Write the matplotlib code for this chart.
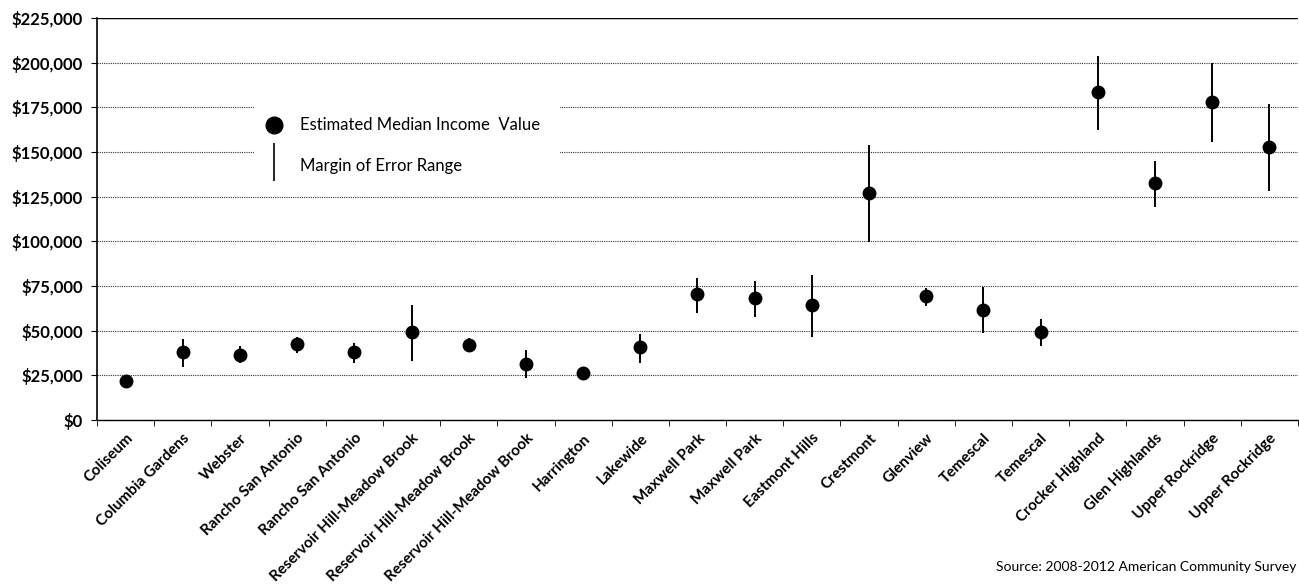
import numpy as np
import matplotlib
matplotlib.use('Agg')
import matplotlib.pyplot as plt
from matplotlib.ticker import FuncFormatter, MultipleLocator
from matplotlib.patches import Rectangle

neighborhoods = ['Coliseum', 'Columbia Gardens', 'Webster', 'Rancho San Antonio',
                 'Rancho San Antonio', 'Reservoir Hill-Meadow Brook',
                 'Reservoir Hill-Meadow Brook', 'Reservoir Hill-Meadow Brook',
                 'Harrington', 'Lakewide', 'Maxwell Park', 'Maxwell Park',
                 'Eastmont Hills', 'Crestmont', 'Glenview', 'Temescal', 'Temescal',
                 'Crocker Highland', 'Glen Highlands', 'Upper Rockridge', 'Upper Rockridge']
median_income = [22000, 38000, 36500, 42500, 38000, 49200, 42000, 31500, 26300, 40800,
                 70500, 68300, 64300, 127000, 69500, 61500, 49500, 183500, 132500,
                 178000, 153000]
moe_low = [18000, 29500, 32000, 37500, 32000, 33000, 38500, 23500, 23000, 31800,
           59900, 57600, 46400, 99600, 64000, 48700, 41400, 162300, 119200,
           155600, 128200]
moe_high = [25000, 45500, 41400, 46500, 43000, 64300, 46000, 39000, 29500, 48100,
            79400, 77800, 81100, 154000, 74000, 74400, 56500, 203700, 145000,
            199800, 176800]

plt.rcParams['font.family'] = ['Lato', 'DejaVu Sans']

fig = plt.figure(figsize=(12.99, 5.85), dpi=100)
ax = fig.add_axes([0.0747, 0.282, 0.9245, 0.687])

x = np.arange(len(neighborhoods))
ax.vlines(x, moe_low, moe_high, color='black', lw=1.4, zorder=3)
ax.plot(x, median_income, 'o', color='black', ms=9, zorder=4)

ax.set_xlim(-0.5, len(neighborhoods) - 0.5)
ax.set_ylim(0, 225000)
ax.yaxis.set_major_locator(MultipleLocator(25000))
ax.yaxis.set_major_formatter(FuncFormatter(lambda v, p: '${:,.0f}'.format(v)))
ax.grid(axis='y', color='#333333', lw=0.8, ls=(0, (1, 1)))
ax.set_axisbelow(True)

ax.set_xticks(x)
ax.set_xticklabels(neighborhoods, rotation=45, ha='right', rotation_mode='anchor',
                   fontsize=11, fontweight='bold')
ax.tick_params(axis='x', which='major', length=0, pad=8)
ax.set_xticks(np.arange(-0.5, len(neighborhoods)), minor=True)
ax.tick_params(axis='x', which='minor', length=4, direction='out')
ax.tick_params(axis='y', length=4, labelsize=12, pad=6)
for lab in ax.get_yticklabels():
    lab.set_fontweight('bold')

for s in ['top', 'right']:
    ax.spines[s].set_visible(False)
ax.axhline(225000, color='black', lw=1.0)
ax.spines['left'].set_linewidth(1.2)
ax.spines['bottom'].set_linewidth(1.0)

# legend box
ax.add_patch(Rectangle((2.245, 135000), 5.35, 45000, facecolor='white', edgecolor='none', zorder=2.5))
ax.plot([2.59], [165000], 'o', color='black', ms=12, zorder=4)
ax.text(3.05, 165000, 'Estimated Median Income  Value', fontsize=12, va='center')
ax.vlines([2.59], 134000, 155000, color='black', lw=1.2, zorder=4)
ax.text(3.05, 142000, 'Margin of Error Range', fontsize=12, va='center')

fig.text(0.998, 0.02, 'Source: 2008-2012 American Community Survey', ha='right',
         va='bottom', fontsize=10)

fig.savefig('out.png', dpi=100)
